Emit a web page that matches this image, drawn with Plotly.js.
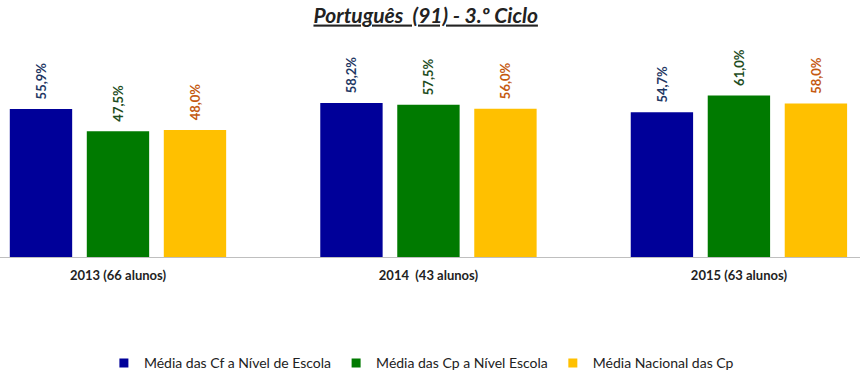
<!DOCTYPE html>
<html><head><meta charset="utf-8">
<script src="https://cdn.plot.ly/plotly-3.0.1.min.js"></script>
<style>html,body{margin:0;padding:0;background:#fff;}#chart{width:860px;height:380px;}</style>
</head><body><div id="chart"></div>
<script>
const categories = ["2013 (66 alunos)", "2014  (43 alunos)", "2015 (63 alunos)"];
const seriesNames = ["Média das Cf a Nível de Escola", "Média das Cp a Nível Escola", "Média Nacional das Cp"];
const cfEscola = [55.9, 58.2, 54.7];
const cpEscola = [47.5, 57.5, 61.0];
const cpNacional = [48.0, 56.0, 58.0];
const values = [cfEscola, cpEscola, cpNacional];
const barColors = ["#000099", "#007A00", "#FFC000"];
const labelColors = ["#1F3864", "#1E4D1E", "#C55A11"];

const FONT = "Lato, 'Open Sans', sans-serif";
const traces = values.map((v, i) => ({
  type: "bar",
  name: seriesNames[i],
  x: [0, 1, 2],
  y: v,
  marker: {color: barColors[i]},
  texttemplate: "\u00a0\u00a0<b>%{y:.1f}%</b>",
  textposition: "outside",
  textangle: -90,
  cliponaxis: false,
  textfont: {family: FONT, size: 13, color: labelColors[i]},
  showlegend: false,
  hoverinfo: "skip"
}));
// legend entries (small square markers)
seriesNames.forEach((n, i) => traces.push({
  type: "scatter", mode: "markers", name: n,
  x: [null], y: [null],
  marker: {symbol: "square", size: 9, color: barColors[i]},
  showlegend: true, hoverinfo: "skip"
}));

const layout = {
  width: 860, height: 380,
  margin: {l: 0, r: 0, t: 40, b: 123},
  paper_bgcolor: "#fff", plot_bgcolor: "#fff",
  separators: ",.",
  font: {family: FONT, color: "#222"},
  title: {text: "<b><i><u>Português  (91) - 3.º Ciclo</u></i></b>", x: 0.495, xanchor: "center", y: 0.96, yanchor: "middle",
          font: {family: FONT, size: 21, color: "#222"}},
  barmode: "group",
  bargap: 0.256,
  bargroupgap: 0.19,
  xaxis: {
    range: [-0.38, 2.39],
    tickvals: [0, 1, 2],
    ticktext: categories.map(c => "<b>" + c + "</b>"),
    tickfont: {family: FONT, size: 13, color: "#222"},
    ticklabelstandoff: 6,
    showgrid: false, zeroline: false,
    showline: true, linecolor: "#BFBFBF", linewidth: 1,
    ticks: "", fixedrange: true
  },
  yaxis: {range: [0, 82], visible: false, showgrid: false, zeroline: false, fixedrange: true},
  showlegend: true,
  legend: {orientation: "h", x: 0.49, xanchor: "center", y: -0.49, yanchor: "middle",
           font: {family: FONT, size: 14, color: "#222"}, itemwidth: 30, tracegroupgap: 0,
           traceorder: "normal"}
};
Plotly.newPlot("chart", traces, layout, {displayModeBar: false, staticPlot: true});
</script></body></html>
